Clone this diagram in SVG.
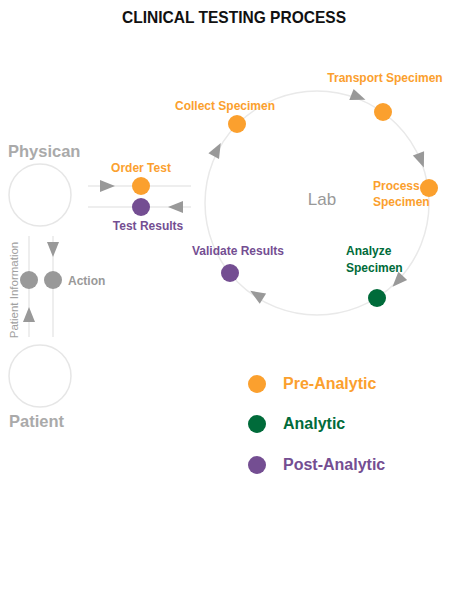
<svg xmlns="http://www.w3.org/2000/svg" width="460" height="613" viewBox="0 0 460 613">
<style>
text{font-family:"Liberation Sans",Arial,sans-serif;font-weight:bold}
.line{stroke:#e9e9e9;stroke-width:1.5;fill:none}
.ring{stroke:#e6e6e6;stroke-width:1.5;fill:#fff}
.arr{fill:#999}
.pre{fill:#FBA02E}
.ana{fill:#006B3A}
.post{fill:#744E92}
.gray{fill:#999}
.lbl{font-size:12px}
.leg{font-size:16px}
.big{font-size:16.5px;fill:#aaa}
</style>
<defs>
<path id="tri" d="M8,0 L-7,-6 L-7,6 Z"/>
</defs>
<rect width="460" height="613" fill="#fff"/>
<text x="234" y="23" font-size="16.5" fill="#111" text-anchor="middle" textLength="224" lengthAdjust="spacingAndGlyphs">CLINICAL TESTING PROCESS</text>

<g id="connectors">
<circle class="line" cx="317" cy="203" r="112"/>
<line class="line" x1="88" y1="186" x2="191" y2="186"/>
<line class="line" x1="88" y1="207" x2="191" y2="207"/>
<line class="line" x1="29" y1="236" x2="29" y2="337"/>
<line class="line" x1="53" y1="236" x2="53" y2="337"/>
<use href="#tri" class="arr" transform="translate(107,186)"/>
<use href="#tri" class="arr" transform="translate(176,207) rotate(180)"/>
<use href="#tri" class="arr" transform="translate(53,249) rotate(90)"/>
<use href="#tri" class="arr" transform="translate(29,315) rotate(-90)"/>
<use href="#tri" class="arr" transform="translate(217,150) rotate(-62)"/>
<use href="#tri" class="arr" transform="translate(358,97) rotate(21)"/>
<use href="#tri" class="arr" transform="translate(421,160) rotate(69)"/>
<use href="#tri" class="arr" transform="translate(398,281) rotate(133)"/>
<use href="#tri" class="arr" transform="translate(257,295) rotate(212)"/>
</g>

<g id="physican">
<circle class="ring" cx="40" cy="195" r="31"/>
<text x="8" y="157" class="big">Physican</text>
</g>
<g id="patient">
<circle class="ring" cx="40" cy="376" r="31"/>
<text x="9" y="427" class="big">Patient</text>
</g>
<g id="patient-information">
<circle class="gray" cx="29" cy="280" r="9"/>
<text transform="translate(18,290) rotate(-90)" font-size="11.5" fill="#a0a0a0" text-anchor="middle" style="font-weight:normal">Patient Information</text>
</g>
<g id="action">
<circle class="gray" cx="53" cy="280" r="9"/>
<text x="68" y="285" class="lbl" fill="#999">Action</text>
</g>
<g id="order-test">
<circle class="pre" cx="141" cy="186" r="9"/>
<text x="141" y="172" class="lbl pre" text-anchor="middle">Order Test</text>
</g>
<g id="test-results">
<circle class="post" cx="141" cy="207" r="9"/>
<text x="148" y="230" class="lbl post" text-anchor="middle">Test Results</text>
</g>
<g id="lab">
<text x="322" y="205" font-size="17" fill="#999" text-anchor="middle" style="font-weight:normal">Lab</text>
</g>
<g id="collect-specimen">
<circle class="pre" cx="237" cy="124" r="9"/>
<text x="225" y="110" class="lbl pre" text-anchor="middle">Collect Specimen</text>
</g>
<g id="transport-specimen">
<circle class="pre" cx="383" cy="112" r="9"/>
<text x="385" y="82" class="lbl pre" text-anchor="middle">Transport Specimen</text>
</g>
<g id="process-specimen">
<circle class="pre" cx="429" cy="188" r="9"/>
<text x="373" y="190" class="lbl pre">Process</text>
<text x="373" y="206" class="lbl pre">Specimen</text>
</g>
<g id="analyze-specimen">
<circle class="ana" cx="377" cy="298" r="9"/>
<text x="346" y="255" class="lbl ana">Analyze</text>
<text x="346" y="272" class="lbl ana">Specimen</text>
</g>
<g id="validate-results">
<circle class="post" cx="230" cy="273" r="9"/>
<text x="238" y="255" class="lbl post" text-anchor="middle">Validate Results</text>
</g>

<g id="legend">
<circle class="pre" cx="257" cy="384" r="9"/>
<text x="283" y="389" class="leg pre">Pre-Analytic</text>
<circle class="ana" cx="257" cy="424" r="9"/>
<text x="283" y="429" class="leg ana">Analytic</text>
<circle class="post" cx="257" cy="465" r="9"/>
<text x="283" y="470" class="leg post">Post-Analytic</text>
</g>
</svg>
